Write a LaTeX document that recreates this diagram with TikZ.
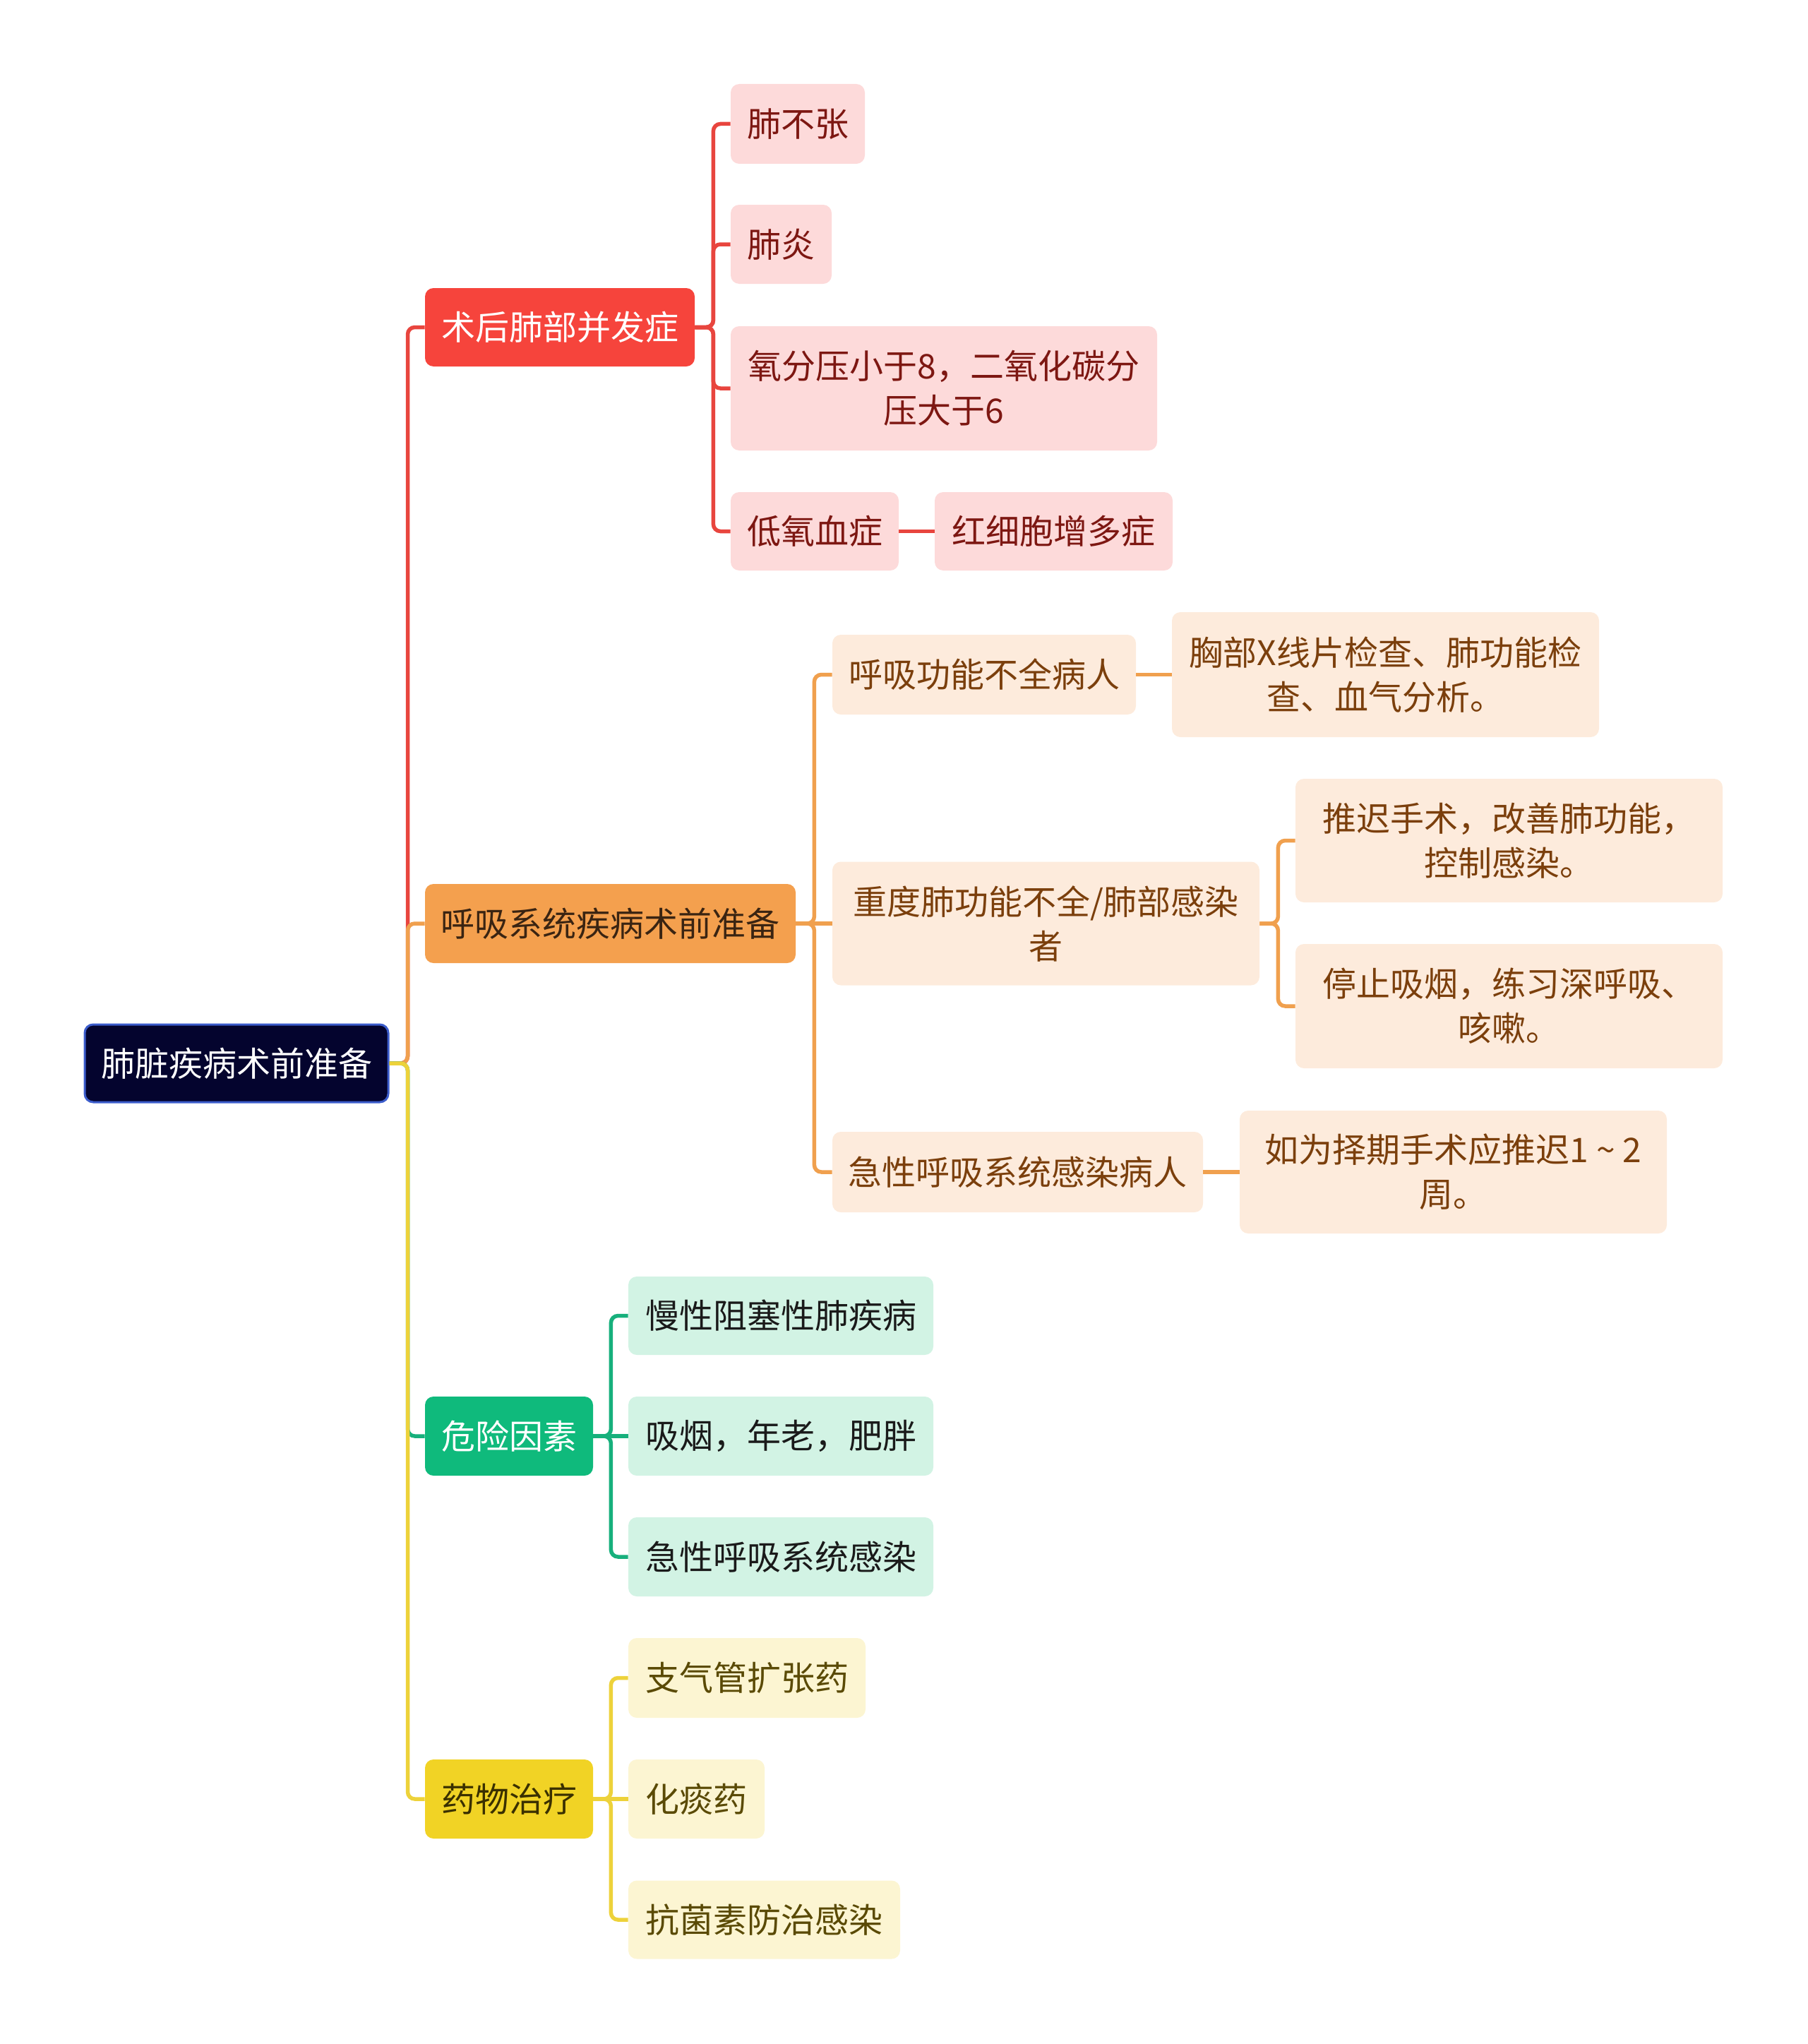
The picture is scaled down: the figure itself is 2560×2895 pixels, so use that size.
\documentclass[tikz,border=0pt]{standalone}
\usepackage{fontspec}
\newfontfamily\cjk{Noto Sans CJK SC}
\definecolor{rootF}{HTML}{04042E}
\definecolor{rootB}{HTML}{3B5CCB}
\definecolor{redM}{HTML}{F6443C}
\definecolor{redL}{HTML}{FDDADA}
\definecolor{redT}{HTML}{7D1712}
\definecolor{redLn}{HTML}{E8453E}
\definecolor{orM}{HTML}{F4A04E}
\definecolor{orL}{HTML}{FDEBDC}
\definecolor{orT}{HTML}{7B3F0C}
\definecolor{orMT}{HTML}{3A2412}
\definecolor{orLn}{HTML}{F0A04E}
\definecolor{grM}{HTML}{0FBA7C}
\definecolor{grL}{HTML}{D2F3E4}
\definecolor{grT}{HTML}{1A1A1A}
\definecolor{grLn}{HTML}{17B07C}
\definecolor{yeM}{HTML}{F1D325}
\definecolor{yeL}{HTML}{FCF5D2}
\definecolor{yeT}{HTML}{5A4A05}
\definecolor{yeMT}{HTML}{3A3000}
\definecolor{yeLn}{HTML}{EDD23A}
\tikzset{
  box/.style={rounded corners=6pt, inner sep=0pt, align=center, font=\cjk\fontsize{24}{31.5}\selectfont},
  rootbox/.style={box, fill=rootF, draw=rootB, line width=1.5pt, text=white},
  redmain/.style={box, fill=redM, text=white},
  redsub/.style={box, fill=redL, text=redT},
  ormain/.style={box, fill=orM, text=orMT},
  orsub/.style={box, fill=orL, text=orT},
  grmain/.style={box, fill=grM, text=white},
  grsub/.style={box, fill=grL, text=grT},
  yemain/.style={box, fill=yeM, text=yeMT},
  yesub/.style={box, fill=yeL, text=yeT},
  conn/.style={line width=2.75pt, rounded corners=5pt},
}
\begin{document}
\begin{tikzpicture}[x=0.5pt,y=-0.5pt]
\useasboundingbox (0,0) rectangle (2560,2895);
% root
\node[rootbox, minimum width=215pt, minimum height=55pt] (root) at (335,1506) {肺脏疾病术前准备};
% main branches
\node[redmain, minimum width=191pt, minimum height=55.5pt] (a) at (793,463.5) {术后肺部并发症};
\node[ormain, minimum width=262.5pt, minimum height=56pt] (b) at (864.5,1308) {呼吸系统疾病术前准备};
\node[grmain, minimum width=119pt, minimum height=56pt] (c) at (721,2034) {危险因素};
\node[yemain, minimum width=119pt, minimum height=56pt] (d) at (721,2548) {药物治疗};
% red children
\node[redsub, minimum width=95pt, minimum height=56.5pt] (a1) at (1130,175.5) {肺不张};
\node[redsub, minimum width=71.5pt, minimum height=56pt] (a2) at (1106.5,346) {肺炎};
\node[redsub, minimum width=302pt, minimum height=88pt] (a3) at (1337,550) {氧分压小于8，二氧化碳分\\压大于6};
\node[redsub, minimum width=119pt, minimum height=55.5pt] (a4) at (1154,752.5) {低氧血症};
\node[redsub, minimum width=168.5pt, minimum height=55.5pt] (a5) at (1492.5,752.5) {红细胞增多症};
% orange children
\node[orsub, minimum width=215pt, minimum height=56.5pt] (b1) at (1394,955.5) {呼吸功能不全病人};
\node[orsub, minimum width=302.5pt, minimum height=88.5pt] (b2) at (1962.5,955.5) {胸部X线片检查、肺功能检\\查、血气分析。};
\node[orsub, minimum width=302.5pt, minimum height=87.5pt] (b3) at (1481.5,1308) {重度肺功能不全/肺部感染\\者};
\node[orsub, minimum width=302.5pt, minimum height=87.5pt] (b4) at (2137.5,1190.5) {推迟手术，改善肺功能，\\控制感染。};
\node[orsub, minimum width=302.5pt, minimum height=88pt] (b5) at (2137.5,1425) {停止吸烟，练习深呼吸、\\咳嗽。};
\node[orsub, minimum width=262.5pt, minimum height=57pt] (b6) at (1441.5,1660) {急性呼吸系统感染病人};
\node[orsub, minimum width=302.5pt, minimum height=87pt] (b7) at (2058.5,1660) {如为择期手术应推迟1\makebox[1em][c]{\textasciitilde}2\\周。};
% green children
\node[grsub, minimum width=216pt, minimum height=55.5pt] (c1) at (1106,1863.5) {慢性阻塞性肺疾病};
\node[grsub, minimum width=216pt, minimum height=56pt] (c2) at (1106,2034) {吸烟，年老，肥胖};
\node[grsub, minimum width=216pt, minimum height=56pt] (c3) at (1106,2205) {急性呼吸系统感染};
% yellow children
\node[yesub, minimum width=168pt, minimum height=56.5pt] (d1) at (1058,2376.5) {支气管扩张药};
\node[yesub, minimum width=96.5pt, minimum height=56pt] (d2) at (986.5,2548) {化痰药};
\node[yesub, minimum width=192.5pt, minimum height=55.5pt] (d3) at (1082.5,2719) {抗菌素防治感染};
% root connectors
\draw[conn, redLn] (root.east) -- ++(26,0) |- (a.west);
\draw[conn, orLn] (root.east) -- ++(26,0) |- (b.west);
\draw[conn, grLn] (root.east) -- ++(26,0) |- (c.west);
\draw[conn, yeLn] (root.east) -- ++(26,0) |- (d.west);
% red connectors
\draw[conn, redLn] (a.east) -- ++(26,0) |- (a1.west);
\draw[conn, redLn] (a.east) -- ++(26,0) |- (a2.west);
\draw[conn, redLn] (a.east) -- ++(26,0) |- (a3.west);
\draw[conn, redLn] (a.east) -- ++(26,0) |- (a4.west);
\draw[conn, redLn] (a4.east) -- (a5.west);
% orange connectors
\draw[conn, orLn] (b.east) -- ++(26,0) |- (b1.west);
\draw[conn, orLn] (b.east) -- (b3.west);
\draw[conn, orLn] (b.east) -- ++(26,0) |- (b6.west);
\draw[conn, orLn] (b1.east) -- (b2.west);
\draw[conn, orLn] (b3.east) -- ++(26,0) |- (b4.west);
\draw[conn, orLn] (b3.east) -- ++(26,0) |- (b5.west);
\draw[conn, orLn] (b6.east) -- (b7.west);
% green connectors
\draw[conn, grLn] (c.east) -- ++(25,0) |- (c1.west);
\draw[conn, grLn] (c.east) -- (c2.west);
\draw[conn, grLn] (c.east) -- ++(25,0) |- (c3.west);
% yellow connectors
\draw[conn, yeLn] (d.east) -- ++(25,0) |- (d1.west);
\draw[conn, yeLn] (d.east) -- (d2.west);
\draw[conn, yeLn] (d.east) -- ++(25,0) |- (d3.west);
\end{tikzpicture}
\end{document}
